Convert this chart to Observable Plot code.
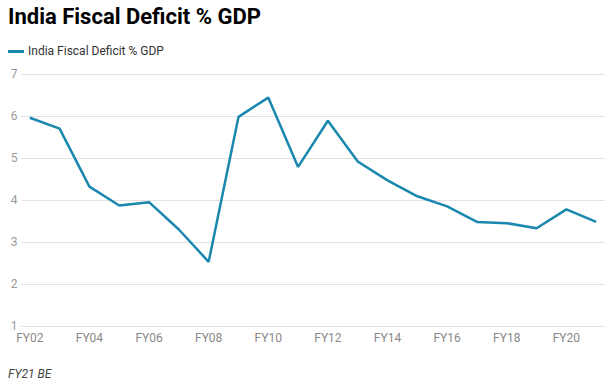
<!DOCTYPE html>
<html>
<head>
<meta charset="utf-8">
<script src="https://cdn.jsdelivr.net/npm/d3@7"></script>
<script src="https://cdn.jsdelivr.net/npm/@observablehq/plot@0.6"></script>
<style>
  html, body { margin: 0; padding: 0; background: #fff; }
  body { width: 610px; height: 383px; position: relative; overflow: hidden; font-family: Roboto, "Noto Sans", sans-serif; }
  #title { position: absolute; left: 8px; top: 6px; font-size: 22px; font-weight: 700; line-height: 1; color: #000; white-space: nowrap; }
  #legend { position: absolute; left: 8px; top: 44px; font-size: 12px; line-height: 14px; color: #333; display: flex; align-items: center; white-space: nowrap; }
  #legend .sw { display: inline-block; width: 16px; height: 3px; background: #1a87ae; margin-right: 4px; }
  #chart { position: absolute; left: 0; top: 60px; }
  #footer { position: absolute; left: 8px; top: 367px; font-size: 12px; font-style: italic; line-height: 14px; color: #444; white-space: nowrap; }
</style>
</head>
<body>
<div id="title">India Fiscal Deficit % GDP</div>
<div id="legend"><span class="sw"></span><span>India Fiscal Deficit % GDP</span></div>
<div id="chart"></div>
<div id="footer">FY21 BE</div>
<script>
const years = ["FY02","FY03","FY04","FY05","FY06","FY07","FY08","FY09","FY10","FY11",
               "FY12","FY13","FY14","FY15","FY16","FY17","FY18","FY19","FY20","FY21"];
const deficit = [5.97, 5.71, 4.33, 3.88, 3.96, 3.31, 2.54, 5.99, 6.45, 4.80,
                 5.90, 4.93, 4.48, 4.10, 3.86, 3.49, 3.46, 3.34, 3.79, 3.49];
const yTicks = [1, 2, 3, 4, 5, 6, 7];
const xTickLabels = ["FY02","FY04","FY06","FY08","FY10","FY12","FY14","FY16","FY18","FY20"];

const data = years.map((y, i) => ({i, year: y, value: deficit[i]}));
const xTicks = xTickLabels.map(l => years.indexOf(l));

const chart = Plot.plot({
  width: 610,
  height: 290,
  marginLeft: 21,
  marginRight: 5,
  marginTop: 14,
  marginBottom: 24,
  style: {fontFamily: "Roboto, sans-serif", fontSize: "12px", background: "transparent"},
  x: {domain: [-0.278, 19.312], ticks: xTicks, tickFormat: i => years[i]},
  y: {domain: [1, 7], ticks: yTicks},
  marks: [
    Plot.ruleY(yTicks, {stroke: "#e3e3e3", strokeWidth: 1}),
    Plot.axisY({ticks: yTicks, tickFormat: d => String(d), tickSize: 0, tickPadding: 4, label: null, color: "#999", fontSize: 12}),
    Plot.axisX({ticks: xTicks, tickFormat: i => years[i], tickSize: 0, tickPadding: 7, label: null, color: "#888", fontSize: 12}),
    Plot.line(data, {x: "i", y: "value", stroke: "#1a87ae", strokeWidth: 2.5, strokeLinejoin: "miter", strokeLinecap: "butt"})
  ]
});
document.getElementById("chart").appendChild(chart);
</script>
</body>
</html>
